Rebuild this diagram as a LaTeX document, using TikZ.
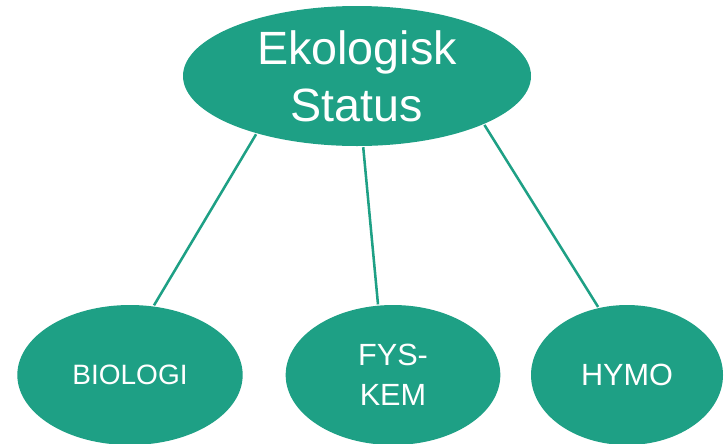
\documentclass[tikz,border=0pt]{standalone}
\usepackage{fontspec}
\setmainfont{Liberation Sans}
\usepackage{tikz}
\usetikzlibrary{shapes}
\definecolor{teal1}{RGB}{30,160,133}
\tikzstyle{el} = [ellipse, fill=teal1, text=white, align=center,
    inner sep=-40pt, minimum height=105pt]

\begin{document}
\begin{tikzpicture}[x=0.75pt,y=-0.75pt,line width=1.9pt,draw=teal1]
  \useasboundingbox (0,0) rectangle (727,443);

  \node[el, minimum width=261pt, font=\fontsize{35}{43}\selectfont]
        (eko) at (357,76) {Ekologisk\\Status};
  \node[el, minimum width=169pt, font=\fontsize{21}{30}\selectfont]
        (bio) at (130,375) {BIOLOGI};
  \node[el, minimum width=161pt, font=\fontsize{23}{30}\selectfont]
        (fys) at (393,375) {FYS-\\KEM};
  \node[el, minimum width=144pt, font=\fontsize{23}{30}\selectfont]
        (hymo) at (627,375) {HYMO};

  \path[draw=teal1] (eko.-150) edge (bio.71)
  (eko.-85) edge (fys.102)
  (eko.-21) edge (hymo.113);
\end{tikzpicture}
\end{document}
